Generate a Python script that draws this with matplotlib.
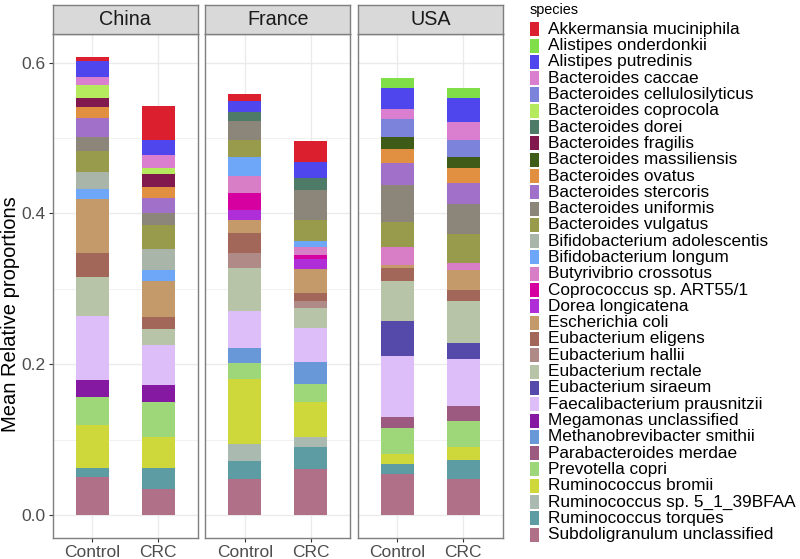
import matplotlib.pyplot as plt
from matplotlib.patches import Rectangle

plt.rcParams['font.family'] = ['Liberation Sans', 'DejaVu Sans']

species = [
    "Akkermansia muciniphila", "Alistipes onderdonkii", "Alistipes putredinis",
    "Bacteroides caccae", "Bacteroides cellulosilyticus", "Bacteroides coprocola",
    "Bacteroides dorei", "Bacteroides fragilis", "Bacteroides massiliensis",
    "Bacteroides ovatus", "Bacteroides stercoris", "Bacteroides uniformis",
    "Bacteroides vulgatus", "Bifidobacterium adolescentis", "Bifidobacterium longum",
    "Butyrivibrio crossotus", "Coprococcus sp. ART55/1", "Dorea longicatena",
    "Escherichia coli", "Eubacterium eligens", "Eubacterium hallii",
    "Eubacterium rectale", "Eubacterium siraeum", "Faecalibacterium prausnitzii",
    "Megamonas unclassified", "Methanobrevibacter smithii", "Parabacteroides merdae",
    "Prevotella copri", "Ruminococcus bromii", "Ruminococcus sp. 5_1_39BFAA",
    "Ruminococcus torques", "Subdoligranulum unclassified",
]
colors = [
    "#DC1F2E", "#80DE48", "#5046EE", "#DA7ED0", "#7B84DA", "#B5EA5E",
    "#4E7A68", "#82194E", "#3F5B18", "#E09040", "#A170C8", "#8C857A",
    "#989A4C", "#AAB5AA", "#6EA6F8", "#D77EC7", "#D600A0", "#B02ED8",
    "#C49A6A", "#A3675A", "#B08A86", "#B8C4A8", "#554AAA", "#DDBEF8",
    "#8619A2", "#6898D8", "#9C5A80", "#9ED67A", "#CFD83A", "#AABAB0",
    "#5E9CA4", "#B07088",
]

countries = ["China", "France", "USA"]
groups = ["Control", "CRC"]

# mean relative proportions, same order as species
china_control = [0.006, 0, 0.021, 0.011, 0, 0.017, 0, 0.012, 0, 0.015, 0.025, 0.018,
                 0.028, 0.023, 0.013, 0, 0, 0, 0.071, 0.032, 0, 0.052, 0, 0.085,
                 0.023, 0, 0, 0.037, 0.056, 0, 0.013, 0.050]
china_crc = [0.044, 0, 0.021, 0.017, 0, 0.008, 0, 0.017, 0, 0.014, 0.020, 0.016,
             0.032, 0.028, 0.014, 0, 0, 0, 0.049, 0.015, 0, 0.022, 0, 0.052,
             0.023, 0, 0, 0.046, 0.042, 0, 0.027, 0.035]
france_control = [0.010, 0, 0.014, 0, 0, 0, 0.013, 0, 0, 0, 0, 0.025,
                  0.022, 0, 0.026, 0.022, 0.023, 0.013, 0.017, 0.027, 0.019, 0.057, 0, 0.050,
                  0, 0.020, 0, 0.020, 0.087, 0.023, 0.023, 0.048]
france_crc = [0.028, 0, 0.021, 0, 0, 0, 0.016, 0, 0, 0, 0, 0.040,
              0.027, 0, 0.009, 0.010, 0.005, 0.014, 0.031, 0.011, 0.010, 0.026, 0, 0.045,
              0, 0.029, 0, 0.024, 0.046, 0.014, 0.029, 0.061]
usa_control = [0, 0.013, 0.028, 0.013, 0.024, 0, 0, 0, 0.016, 0.018, 0.029, 0.050,
               0.032, 0, 0, 0.024, 0, 0, 0.004, 0.018, 0, 0.053, 0.046, 0.081,
               0, 0, 0.014, 0.035, 0.014, 0, 0.013, 0.054]
usa_crc = [0, 0.014, 0.032, 0.023, 0.023, 0, 0, 0, 0.015, 0.020, 0.028, 0.039,
           0.039, 0, 0, 0.009, 0, 0, 0.027, 0.014, 0, 0.056, 0.021, 0.062,
           0, 0, 0.020, 0.035, 0.017, 0, 0.025, 0.048]

data = {
    "China": [china_control, china_crc],
    "France": [france_control, france_crc],
    "USA": [usa_control, usa_crc],
}

W, H = 800, 559
fig = plt.figure(figsize=(W / 100, H / 100), dpi=100)


def box(x0, y0, x1, y1):
    return [x0 / W, 1 - y1 / H, (x1 - x0) / W, (y1 - y0) / H]


border = "#7F7F7F"
txt_grey = "#4D4D4D"
panel_w = 145
gap = 7.6
left0 = 52.7

for k, country in enumerate(countries):
    x0 = left0 + k * (panel_w + gap)
    ax = fig.add_axes(box(x0, 34, x0 + panel_w, 537.7))
    # stacked bars, first species on top
    for j, vals in enumerate(data[country]):
        bottom = 0
        for i in range(len(species) - 1, -1, -1):
            if vals[i] > 0:
                ax.bar(j + 1, vals[i], width=0.5, bottom=bottom, color=colors[i],
                       linewidth=0, zorder=3)
                bottom += vals[i]
    ax.set_xlim(0.4, 2.6)
    ax.set_ylim(-0.0301, 0.638)
    ax.set_xticks([1, 2])
    ax.set_xticklabels(groups)
    ax.set_yticks([0, 0.2, 0.4, 0.6])
    ax.set_yticks([0.1, 0.3, 0.5], minor=True)
    ax.grid(which="major", color="#EBEBEB", linewidth=1.0, zorder=0)
    ax.grid(which="minor", axis="y", color="#EBEBEB", linewidth=0.5, zorder=0)
    ax.tick_params(which="minor", length=0)
    ax.tick_params(which="major", length=3, width=0.8, color="#333333",
                   labelcolor=txt_grey, labelsize=12.5, pad=2)
    if k == 0:
        ax.set_yticklabels(["0.0", "0.2", "0.4", "0.6"])
    else:
        ax.tick_params(axis="y", length=0, labelleft=False)
    for s in ax.spines.values():
        s.set_color(border)
        s.set_linewidth(1.0)
    ax.set_axisbelow(True)

    # facet strip
    st = fig.add_axes(box(x0, 5, x0 + panel_w, 34))
    st.set_facecolor("#D9D9D9")
    st.set_xticks([])
    st.set_yticks([])
    for s in st.spines.values():
        s.set_color(border)
        s.set_linewidth(1.0)
    st.text(0.5, 0.5, country, ha="center", va="center", fontsize=14.2,
            color="#1A1A1A", transform=st.transAxes)

fig.text(10.5 / W, 1 - 314 / H, "Mean Relative proportions", rotation=90,
         ha="center", va="center", fontsize=14.5, color="black")

# legend
fig.text(530 / W, 1 - 10 / H, "species", ha="left", va="center",
         fontsize=10.4, color="black")
for i, name in enumerate(species):
    yc = 29.3 + 16.3 * i
    fig.add_artist(Rectangle(((529.5) / W, 1 - (yc + 7) / H), 9 / W, 14 / H,
                             transform=fig.transFigure, facecolor=colors[i],
                             edgecolor="none"))
    fig.text(547.7 / W, 1 - yc / H, name, ha="left", va="center",
             fontsize=12.4, color="black")

fig.savefig("out.png", dpi=100)
